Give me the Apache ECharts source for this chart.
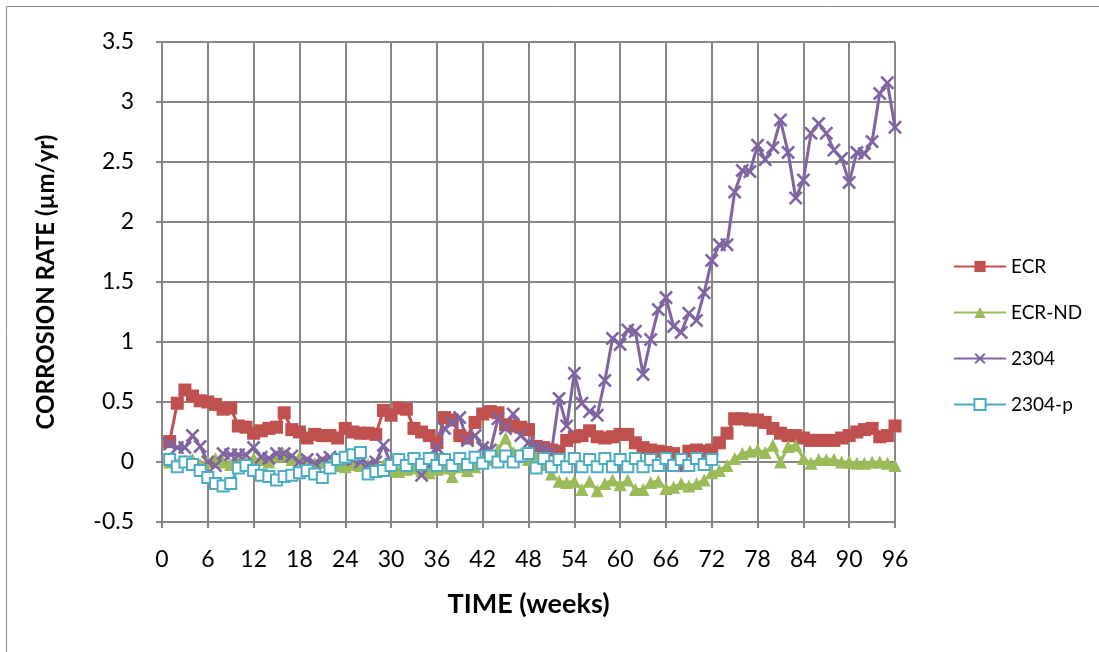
<!DOCTYPE html>
<html>
<head>
<meta charset="utf-8">
<script src="https://cdn.jsdelivr.net/npm/echarts@6/dist/echarts.min.js"></script>
<style>
html,body{margin:0;padding:0;background:#fff;}
#chart{width:1099px;height:652px;}
</style>
</head>
<body>
<div id="chart"></div>
<script>
const weeks = [1,2,3,4,5,6,7,8,9,10,11,12,13,14,15,16,17,18,19,20,21,22,23,24,25,26,27,28,29,30,31,32,33,34,35,36,37,38,39,40,41,42,43,44,45,46,47,48,49,50,51,52,53,54,55,56,57,58,59,60,61,62,63,64,65,66,67,68,69,70,71,72,73,74,75,76,77,78,79,80,81,82,83,84,85,86,87,88,89,90,91,92,93,94,95,96];

const ecr = [0.17,0.49,0.60,0.55,0.51,0.50,0.48,0.44,0.45,0.30,0.29,0.24,0.26,0.28,0.29,0.41,0.27,0.25,0.20,0.23,0.22,0.22,0.20,0.28,0.25,0.24,0.24,0.23,0.43,0.39,0.45,0.44,0.28,0.25,0.22,0.16,0.37,0.35,0.22,0.20,0.33,0.40,0.42,0.41,0.31,0.30,0.29,0.27,0.13,0.12,0.10,0.09,0.18,0.21,0.22,0.26,0.21,0.20,0.21,0.23,0.23,0.16,0.12,0.10,0.09,0.08,0.07,-0.03,0.09,0.10,0.09,0.10,0.16,0.24,0.36,0.36,0.35,0.35,0.33,0.28,0.24,0.22,0.22,0.20,0.18,0.18,0.18,0.18,0.20,0.22,0.25,0.27,0.28,0.21,0.22,0.30];

const ecrNd = [0.00,-0.02,0.01,0.02,-0.02,0.00,0.03,0.00,-0.02,0.02,0.00,0.03,0.02,0.00,0.05,0.06,0.02,0.04,0.00,-0.01,0.00,-0.03,-0.03,-0.04,-0.02,-0.03,-0.02,-0.04,-0.03,-0.07,-0.08,-0.06,-0.05,-0.07,-0.09,-0.06,-0.05,-0.12,-0.04,-0.07,-0.04,0.00,0.02,0.10,0.20,0.08,0.07,0.02,0.04,-0.02,-0.10,-0.16,-0.17,-0.16,-0.23,-0.16,-0.24,-0.18,-0.15,-0.19,-0.15,-0.23,-0.23,-0.17,-0.16,-0.22,-0.21,-0.18,-0.20,-0.18,-0.15,-0.09,-0.07,-0.03,0.03,0.07,0.09,0.10,0.08,0.14,0.00,0.13,0.14,0.03,-0.01,0.02,0.02,0.02,0.00,0.00,-0.01,-0.01,0.00,0.00,-0.01,-0.03];

const s2304 = [0.15,0.12,0.12,0.22,0.13,0.00,-0.03,0.07,0.06,0.06,0.06,0.12,0.04,0.03,0.07,0.07,0.05,0.00,0.02,-0.01,0.02,0.04,0.02,0.03,0.02,0.00,-0.02,0.00,0.14,-0.02,0.00,-0.02,0.01,-0.11,-0.03,0.12,0.28,0.33,0.37,0.18,0.22,0.12,0.10,0.36,0.28,0.40,0.22,0.16,0.13,0.11,0.08,0.53,0.30,0.74,0.49,0.42,0.39,0.68,1.03,0.98,1.10,1.09,0.73,1.02,1.27,1.37,1.13,1.08,1.24,1.18,1.41,1.68,1.81,1.81,2.25,2.43,2.42,2.64,2.52,2.62,2.85,2.58,2.20,2.35,2.74,2.82,2.74,2.60,2.53,2.33,2.58,2.57,2.67,3.07,3.16,2.79];

const s2304p = [0.02,-0.04,0.00,-0.02,-0.07,-0.13,-0.18,-0.20,-0.18,-0.05,-0.03,-0.07,-0.11,-0.12,-0.15,-0.12,-0.11,-0.09,-0.07,-0.10,-0.13,-0.05,0.02,0.04,0.06,0.08,-0.10,-0.08,-0.07,-0.03,0.02,-0.03,0.03,-0.02,0.03,-0.03,0.02,-0.03,0.03,-0.02,0.04,-0.01,0.05,0.00,0.05,0.00,0.05,0.07,-0.05,0.03,-0.04,0.02,-0.04,0.03,-0.04,0.02,-0.04,0.03,-0.04,0.02,-0.04,0.03,-0.04,0.02,-0.03,0.03,-0.03,0.02,-0.03,0.03,-0.02,0.02];

const yTicks = ['-0.5','0','0.5','1','1.5','2','2.5','3','3.5'];

function pairs(xs, ys){ return ys.map((v,i)=>[xs[i], v]); }

const xSymbol = 'path://M0,1.3 L1.3,0 L5,3.7 L8.7,0 L10,1.3 L6.3,5 L10,8.7 L8.7,10 L5,6.3 L1.3,10 L0,8.7 L3.7,5 Z';
const FONT = 'Lato, "Liberation Sans", sans-serif';

const chart = echarts.init(document.getElementById('chart'), null, {renderer:'canvas'});
chart.setOption({
  animation:false,
  backgroundColor:'#fff',
  graphic:[{type:'rect', shape:{x:6.5,y:6.5,width:1200,height:800}, style:{fill:'none', stroke:'#8a8a8a', lineWidth:1}}],
  grid:{left:162, top:42, width:733, height:480, containLabel:false},
  legend:{
    orient:'vertical', left:948, top:252, itemWidth:52, itemHeight:14, itemGap:27,
    textStyle:{fontFamily:FONT, fontSize:19, color:'#000'},
    data:['ECR','ECR-ND','2304','2304-p']
  },
  xAxis:{
    type:'value', min:0, max:96, interval:6,
    name:'TIME (weeks)', nameLocation:'middle', nameGap:69,
    nameTextStyle:{fontFamily:FONT, fontSize:27, fontWeight:'bold', color:'#000'},
    axisLine:{show:true, onZero:false, lineStyle:{color:'#878787', width:2}},
    axisTick:{show:true, length:6, lineStyle:{color:'#878787', width:2}},
    axisLabel:{fontFamily:FONT, fontSize:23, color:'#000', margin:26},
    splitLine:{show:true, lineStyle:{color:'#878787', width:2}}
  },
  yAxis:{
    type:'value', min:-0.5, max:3.5, interval:0.5,
    name:'CORROSION RATE (µm/yr)', nameLocation:'middle', nameGap:104, nameRotate:90,
    nameTextStyle:{fontFamily:FONT, fontSize:24, fontWeight:'bold', color:'#000'},
    axisLine:{show:true, lineStyle:{color:'#878787', width:2}},
    axisTick:{show:true, length:6, lineStyle:{color:'#878787', width:2}},
    axisLabel:{fontFamily:FONT, fontSize:23, color:'#000', margin:28,
      formatter:function(v){ const s = yTicks.find(t=>Math.abs(parseFloat(t)-v)<1e-6); return s===undefined?'':s; }},
    splitLine:{show:true, lineStyle:{color:'#878787', width:2}}
  },
  series:[
    {name:'ECR', type:'line', data:pairs(weeks, ecr), symbol:'rect', symbolSize:13,
      lineStyle:{color:'#C0504D', width:3}, itemStyle:{color:'#C0504D'}},
    {name:'ECR-ND', type:'line', data:pairs(weeks, ecrNd), symbol:'triangle', symbolSize:13,
      lineStyle:{color:'#9BBB59', width:3}, itemStyle:{color:'#9BBB59'}},
    {name:'2304', type:'line', data:pairs(weeks, s2304), symbol:xSymbol, symbolSize:14,
      lineStyle:{color:'#8064A2', width:3}, itemStyle:{color:'#8064A2'}},
    {name:'2304-p', type:'line', data:pairs(weeks.slice(0, s2304p.length), s2304p), symbol:'emptyRect', symbolSize:11,
      lineStyle:{color:'#4BACC6', width:3}, itemStyle:{color:'#4BACC6', borderWidth:1.8}}
  ]
});
</script>
</body>
</html>
